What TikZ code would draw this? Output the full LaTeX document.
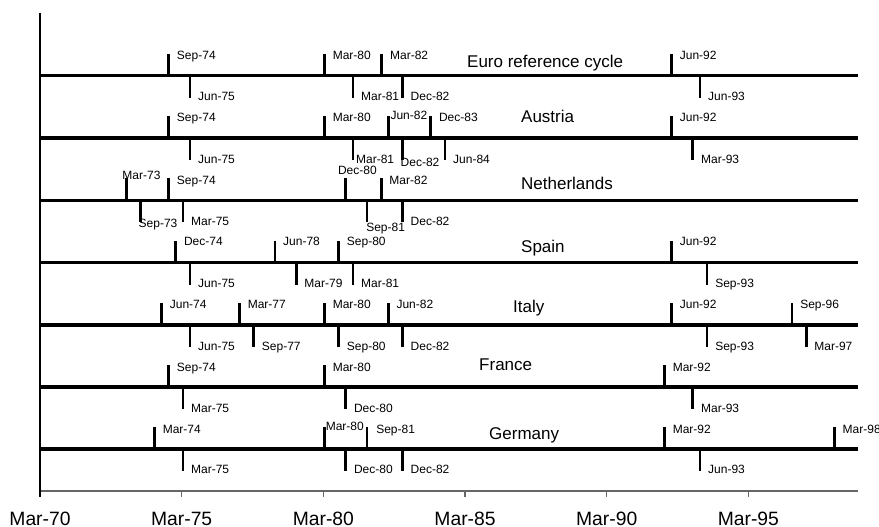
\documentclass[tikz,border=0pt]{standalone}
\usepackage{fontspec}
\setmainfont{Liberation Sans}
\newcommand\tlrow[4]{%
  \coordinate (#1-L) at (40,#2);
  \coordinate (#1-R) at (857.7,#2);
  \draw[series] (#1-L) -- (#1-R);
  \foreach \yr/\q/\lab/\dx/\dy in {#3} {
    \pgfmathsetmacro\tx{41.3+28.33*(\yr-70+\q/4)}
    \pgfmathsetmacro\lx{\tx+(\dx)}
    \pgfmathsetmacro\lyy{#2+(\dy)+4.3}
    \coordinate (#1-u-\lab-a) at (\tx,#2);
    \coordinate (#1-u-\lab-b) at (\tx,#2-22);
    \draw[tickmark] (#1-u-\lab-a) -- (#1-u-\lab-b);
    \node[datelbl] (#1-u-\lab) at (\lx,\lyy) {\lab};
  }
  \foreach \yr/\q/\lab/\dx/\dy in {#4} {
    \pgfmathsetmacro\tx{41.3+28.33*(\yr-70+\q/4)}
    \pgfmathsetmacro\lx{\tx+(\dx)}
    \pgfmathsetmacro\lyy{#2+(\dy)+4.3}
    \coordinate (#1-d-\lab-a) at (\tx,#2);
    \coordinate (#1-d-\lab-b) at (\tx,#2+22);
    \draw[tickmark] (#1-d-\lab-a) -- (#1-d-\lab-b);
    \node[datelbl] (#1-d-\lab) at (\lx,\lyy) {\lab};
  }
}
\begin{document}
\begin{tikzpicture}[x=1pt,y=-1pt,
  series/.style={line width=3.6pt},
  tickmark/.style={line width=2.8pt},
  datelbl/.style={anchor=base west,inner sep=0pt,font=\fontsize{12}{14}\selectfont},
  rowlbl/.style={anchor=base west,inner sep=0pt,font=\fontsize{17}{20}\selectfont},
  axlbl/.style={anchor=base,inner sep=0pt,font=\fontsize{19.3}{22}\selectfont},
  axisline/.style={draw=black!60,line width=1.8pt}]
\useasboundingbox (0,0) rectangle (879,527);
\fill[white] (0,0) rectangle (879,527);

% axes
\coordinate (ytop) at (40,13);
\coordinate (ybot) at (40,497);
\coordinate (xl) at (40,491);
\coordinate (xr) at (857.7,491);
\draw[axisline] (xl) -- (xr);
\draw[line width=1.2pt] (ytop) -- (ybot);
\foreach \i/\lab in {1/Mar-75,2/Mar-80,3/Mar-85,4/Mar-90,5/Mar-95} {
  \pgfmathsetmacro\ax{40+141.67*\i}
  \coordinate (tk\i a) at (\ax,491);
  \coordinate (tk\i b) at (\ax,497);
  \draw[draw=black!60,line width=1.2pt] (tk\i a) -- (tk\i b);
}
\foreach \i/\lab in {0/Mar-70,1/Mar-75,2/Mar-80,3/Mar-85,4/Mar-90,5/Mar-95} {
  \pgfmathsetmacro\ax{40+141.67*\i}
  \node[axlbl] (ax\i) at (\ax,525.9) {\lab};
}

% Euro reference cycle
\tlrow{euro}{75.7}
  {74/2/Sep-74/8/-20, 80/0/Mar-80/8/-20, 82/0/Mar-82/8.7/-20, 92/1/Jun-92/8/-20}
  {75/1/Jun-75/8/21, 81/0/Mar-81/8/21, 82/3/Dec-82/8/21, 93/1/Jun-93/8/21}
\node[rowlbl] (lbl-euro) at (467,67.1) {Euro reference cycle};

% Austria
\tlrow{aut}{138}
  {74/2/Sep-74/8/-21, 80/0/Mar-80/8/-21, 82/1/Jun-82/2/-23, 83/3/Dec-83/8/-21, 92/1/Jun-92/8/-21}
  {75/1/Jun-75/8/21, 81/0/Mar-81/3/21, 82/3/Dec-82/-2/24, 84/1/Jun-84/8/21, 93/0/Mar-93/8/21}
\node[rowlbl] (lbl-aut) at (521,122.1) {Austria};

% Netherlands
\tlrow{nl}{200.4}
  {73/0/Mar-73/-4/-25, 74/2/Sep-74/8/-20, 80/3/Dec-80/-8/-30, 82/0/Mar-82/8/-20}
  {73/2/Sep-73/-2/23, 75/0/Mar-75/8/21, 81/2/Sep-81/-1/27, 82/3/Dec-82/8/21}
\node[rowlbl] (lbl-nl) at (521,189.4) {Netherlands};

% Spain
\tlrow{esp}{262.6}
  {74/3/Dec-74/8/-21, 78/1/Jun-78/8/-21, 80/2/Sep-80/8/-21, 92/1/Jun-92/8/-21}
  {75/1/Jun-75/8/21, 79/0/Mar-79/8/21, 81/0/Mar-81/8/21, 93/2/Sep-93/8/21}
\node[rowlbl] (lbl-esp) at (521,252.8) {Spain};

% Italy
\tlrow{ita}{324.8}
  {74/1/Jun-74/8/-21, 77/0/Mar-77/8/-21, 80/0/Mar-80/8/-21, 82/1/Jun-82/8/-21, 92/1/Jun-92/8/-21, 96/2/Sep-96/8/-21}
  {75/1/Jun-75/8/21, 77/2/Sep-77/8/21, 80/2/Sep-80/8/21, 82/3/Dec-82/8/21, 93/2/Sep-93/8/21, 97/0/Mar-97/8/21}
\node[rowlbl] (lbl-ita) at (513,312.8) {Italy};

% France
\tlrow{fra}{387}
  {74/2/Sep-74/8/-20, 80/0/Mar-80/8/-20, 92/0/Mar-92/8/-20}
  {75/0/Mar-75/8/21, 80/3/Dec-80/8/21, 93/0/Mar-93/8/21}
\node[rowlbl] (lbl-fra) at (479,370.4) {France};

% Germany
\tlrow{ger}{449.2}
  {74/0/Mar-74/8/-20, 80/0/Mar-80/1/-23, 81/2/Sep-81/9/-20, 92/0/Mar-92/8/-20, 98/0/Mar-98/8/-20}
  {75/0/Mar-75/8/20, 80/3/Dec-80/8/20, 82/3/Dec-82/8/20, 93/1/Jun-93/8/20}
\node[rowlbl] (lbl-ger) at (489,439.4) {Germany};
\end{tikzpicture}
\end{document}
